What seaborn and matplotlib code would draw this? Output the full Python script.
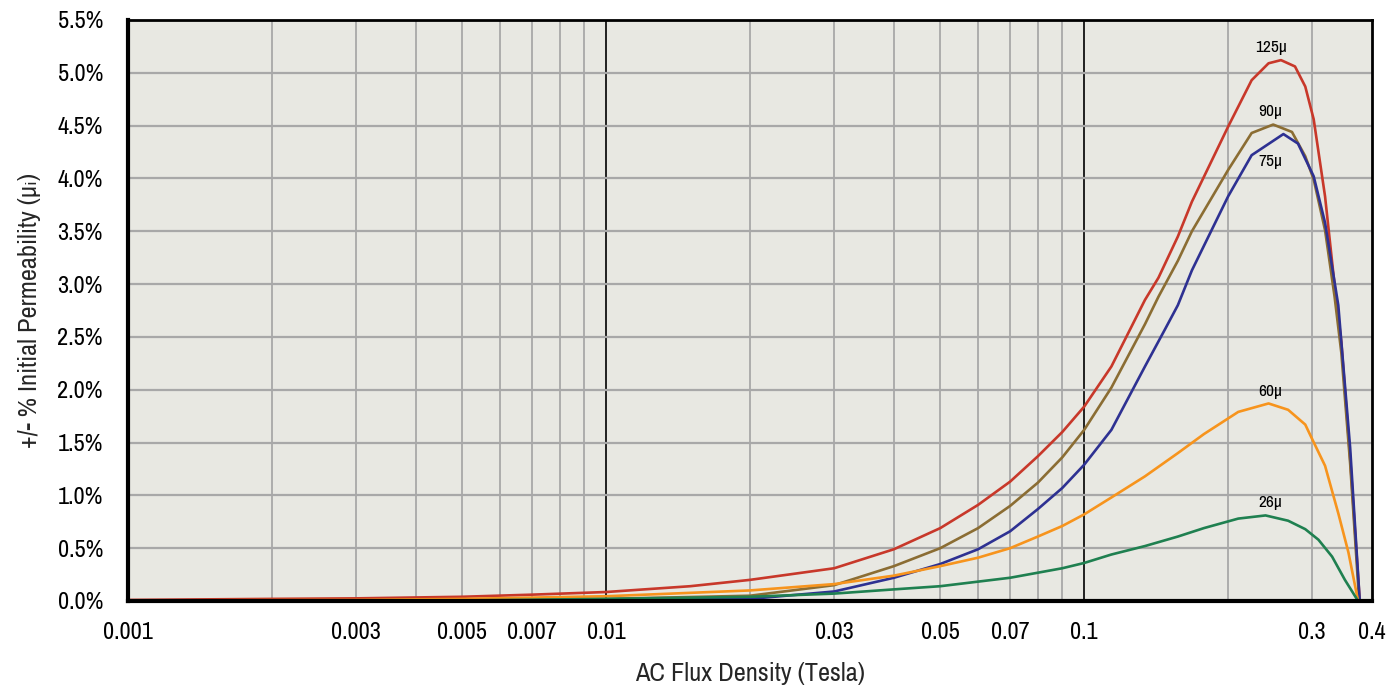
import matplotlib
matplotlib.use("Agg")
import matplotlib.pyplot as plt
import pandas as pd
import seaborn as sns
from matplotlib import font_manager
from matplotlib.ticker import FixedLocator, FuncFormatter, NullLocator

# values (flux density in Tesla, change in %)
x_125 = [0.001, 0.002, 0.003, 0.005, 0.007, 0.01, 0.015, 0.02, 0.03, 0.04, 0.05, 0.06, 0.07,
         0.08, 0.09, 0.1, 0.114, 0.134, 0.143, 0.157, 0.168, 0.2, 0.224, 0.243, 0.258,
         0.276, 0.29, 0.302, 0.319, 0.334, 0.345, 0.36, 0.377]
y_125 = [0.01, 0.02, 0.025, 0.04, 0.06, 0.085, 0.14, 0.20, 0.31, 0.49, 0.69, 0.91, 1.13,
         1.37, 1.60, 1.84, 2.22, 2.85, 3.06, 3.45, 3.78, 4.49, 4.93, 5.09, 5.12,
         5.06, 4.87, 4.56, 3.83, 2.99, 2.45, 1.35, 0.0]

x_90 = [0.001, 0.003, 0.005, 0.01, 0.02, 0.03, 0.04, 0.05, 0.06, 0.07, 0.08, 0.09, 0.1,
        0.114, 0.134, 0.143, 0.157, 0.168, 0.2, 0.224, 0.2485, 0.272, 0.29, 0.302,
        0.319, 0.334, 0.345, 0.36, 0.376]
y_90 = [0.0, 0.005, 0.01, 0.02, 0.05, 0.15, 0.33, 0.50, 0.69, 0.90, 1.12, 1.36, 1.62,
        2.02, 2.62, 2.88, 3.22, 3.50, 4.08, 4.43, 4.51, 4.44, 4.21, 3.99,
        3.51, 2.88, 2.35, 1.30, 0.0]

x_75 = [0.001, 0.005, 0.01, 0.02, 0.03, 0.04, 0.05, 0.06, 0.07, 0.08, 0.09, 0.1, 0.114,
        0.134, 0.1475, 0.157, 0.168, 0.2, 0.224, 0.261, 0.28, 0.302, 0.319, 0.34,
        0.36, 0.377]
y_75 = [0.0, 0.005, 0.01, 0.02, 0.09, 0.22, 0.35, 0.49, 0.66, 0.87, 1.07, 1.29, 1.62,
        2.22, 2.57, 2.80, 3.13, 3.83, 4.22, 4.42, 4.33, 4.02, 3.58, 2.80,
        1.45, 0.0]

x_60 = [0.001, 0.003, 0.005, 0.01, 0.02, 0.03, 0.04, 0.05, 0.06, 0.07, 0.08, 0.09, 0.1,
        0.114, 0.134, 0.157, 0.178, 0.21, 0.243, 0.267, 0.29, 0.3, 0.319, 0.34, 0.357, 0.374]
y_60 = [0.005, 0.01, 0.02, 0.045, 0.10, 0.16, 0.24, 0.33, 0.41, 0.50, 0.61, 0.71, 0.82,
        0.98, 1.18, 1.40, 1.58, 1.79, 1.87, 1.81, 1.67, 1.53, 1.28, 0.83, 0.46, 0.0]

x_26 = [0.001, 0.005, 0.01, 0.02, 0.03, 0.04, 0.05, 0.07, 0.09, 0.1, 0.114, 0.134, 0.157,
        0.178, 0.21, 0.2395, 0.267, 0.29, 0.309, 0.33, 0.351, 0.374]
y_26 = [0.0, 0.005, 0.02, 0.04, 0.07, 0.11, 0.14, 0.22, 0.31, 0.36, 0.44, 0.52, 0.61,
        0.69, 0.78, 0.81, 0.76, 0.68, 0.58, 0.42, 0.20, 0.0]

series = ["125µ", "90µ", "75µ", "60µ", "26µ"]
colors = ["#c8382a", "#8b6d33", "#2e3192", "#f7941d", "#1f8050"]
label_pos = [(0.2455, 5.24), (0.2455, 4.63), (0.2455, 4.16), (0.2455, 1.98), (0.2455, 0.93)]

x_ticks = [0.001, 0.003, 0.005, 0.007, 0.01, 0.03, 0.05, 0.07, 0.1, 0.3, 0.4]
x_tick_labels = ["0.001", "0.003", "0.005", "0.007", "0.01", "0.03", "0.05", "0.07", "0.1", "0.3", "0.4"]
y_ticks = [0.0, 0.5, 1.0, 1.5, 2.0, 2.5, 3.0, 3.5, 4.0, 4.5, 5.0, 5.5]

frames = []
for name, xs, ys in zip(series, [x_125, x_90, x_75, x_60, x_26], [y_125, y_90, y_75, y_60, y_26]):
    frames.append(pd.DataFrame({"flux": xs, "pct": ys, "grade": name}))
df = pd.concat(frames, ignore_index=True)

sns.set_style("white")

# the original uses a condensed face; take a narrow one if the box has it
fonts = font_manager.fontManager.ttflist
family, stretch = "DejaVu Sans", "normal"
for f in fonts:
    if "Narrow" in f.name or "Condensed" in f.name:
        family, stretch = f.name, "normal"
        break
else:
    if any(f.name == "DejaVu Sans" and str(f.stretch) in ("condensed", "semi-condensed") for f in fonts):
        stretch = "condensed"
plt.rcParams["font.family"] = [family, "DejaVu Sans"]
plt.rcParams["font.stretch"] = stretch
plt.rcParams["font.weight"] = "bold"

fig = plt.figure(figsize=(13.88, 6.96), dpi=100)
ax = fig.add_axes([0.0922, 0.1365, 0.8963, 0.8348])
ax.set_facecolor("#e8e8e2")

# grid: gray minors, black decades
grid_x = [m * 10.0 ** e for e in (-3, -2, -1) for m in range(2, 10) if m * 10.0 ** e < 0.4]
for gx in grid_x:
    ax.axvline(gx, color="#a8a8a8", lw=1.3, zorder=1)
for gx in (0.01, 0.1):
    ax.axvline(gx, color="black", lw=1.2, zorder=1)
for gy in y_ticks[1:-1]:
    ax.axhline(gy, color="#a8a8a8", lw=1.6, zorder=1)

sns.lineplot(data=df, x="flux", y="pct", hue="grade", palette=dict(zip(series, colors)),
             estimator=None, sort=True, lw=1.9, legend=False, ax=ax, zorder=3)

for name, (lx, ly) in zip(series, label_pos):
    ax.text(lx, ly, name, ha="center", va="center", fontsize=12.5, color="black", zorder=4)

ax.set_xscale("log")
ax.set_xlim(0.001, 0.4)
ax.set_ylim(0, 5.5)
ax.xaxis.set_major_locator(FixedLocator(x_ticks))
ax.xaxis.set_major_formatter(FuncFormatter(lambda v, p: x_tick_labels[x_ticks.index(v)] if v in x_ticks else ""))
ax.xaxis.set_minor_locator(NullLocator())
ax.yaxis.set_major_locator(FixedLocator(y_ticks))
ax.yaxis.set_major_formatter(FuncFormatter(lambda v, p: f"{v:.1f}%"))

ax.tick_params(axis="x", direction="out", length=9, width=1.2, colors="#999999",
               labelcolor="black", labelsize=17.5, pad=6)
ax.tick_params(axis="y", direction="out", length=14, width=1.8, color="#333333",
               labelcolor="black", labelsize=17.5, pad=4)
for t, v in zip(ax.xaxis.get_major_ticks(), x_ticks):
    if v in (0.001, 0.01, 0.1, 0.4):
        t.tick1line.set_color("black")

for side in ("left", "bottom"):
    ax.spines[side].set_linewidth(3)
for side in ("top", "right"):
    ax.spines[side].set_linewidth(2)
for s in ax.spines.values():
    s.set_color("black")
    s.set_zorder(5)

ax.set_xlabel("AC Flux Density (Tesla)", fontsize=19, labelpad=14)
ax.set_ylabel("+/- % Initial Permeability (µᵢ)", fontsize=19, labelpad=12)

fig.savefig("out.png", dpi=100)
